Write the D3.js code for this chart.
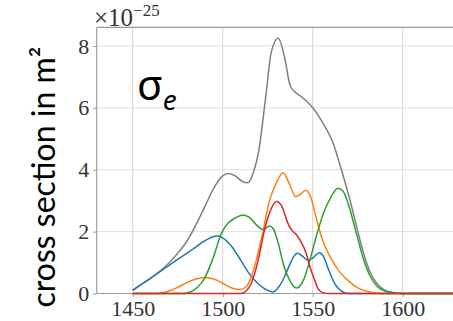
<!DOCTYPE html>
<html>
<head>
<meta charset="utf-8">
<script src="https://cdn.jsdelivr.net/npm/d3@7"></script>
<style>
  html, body { margin: 0; padding: 0; background: #fff; }
  svg { display: block; }
</style>
</head>
<body>
<svg id="chart" width="453" height="321"></svg>
<script>
// Emission cross section (units of 1e-25 m^2) versus wavelength (nm)
const xTicks = [1450, 1500, 1550, 1600];
const yTicks = [0, 2, 4, 6, 8];

// total emission cross section
const totalSeries = [
  [1450, 0.11], [1455, 0.3], [1460, 0.5], [1465, 0.72], [1470, 0.98], [1475, 1.3],
  [1480, 1.68], [1485, 2.2], [1490, 2.8], [1495, 3.4], [1500, 3.8], [1503, 3.88],
  [1507, 3.8], [1511, 3.62], [1514, 3.58], [1517, 3.9], [1520, 4.6], [1524, 6.4],
  [1527, 7.8], [1530.8, 8.25], [1534.5, 7.6], [1537.3, 6.75], [1540, 6.52], [1544, 6.35],
  [1549.4, 6.05], [1555.8, 5.5], [1561.4, 4.85], [1566, 3.99], [1570.7, 3.02],
  [1574.4, 2.16], [1578, 1.35], [1582, 0.68], [1586, 0.3], [1590, 0.11], [1595, 0.03],
  [1600, 0], [1640, 0]
];

// individual transition components
const blueSeries = [
  [1450, 0.1], [1455, 0.3], [1460, 0.5], [1465, 0.7], [1470, 0.9], [1475, 1.1],
  [1480, 1.3], [1485, 1.5], [1490, 1.7], [1495, 1.84], [1497, 1.86], [1500, 1.8],
  [1505, 1.52], [1510, 1.08], [1515, 0.62], [1520, 0.3], [1525, 0.1], [1528, 0.05],
  [1531, 0.2], [1534, 0.5], [1537, 0.9], [1539.5, 1.2], [1541.6, 1.3], [1544, 1.22],
  [1547.5, 1.07], [1550.5, 1.17], [1553.6, 1.32], [1556, 1.2], [1558, 0.9],
  [1560, 0.6], [1563, 0.25], [1566, 0.08], [1570, 0], [1640, 0]
];

const orangeSeries = [
  [1450, 0], [1463, 0], [1467, 0.03], [1470, 0.08], [1475, 0.2], [1480, 0.35],
  [1485, 0.47], [1490, 0.52], [1495, 0.47], [1500, 0.33], [1505, 0.18], [1509.5, 0.13],
  [1513, 0.22], [1516, 0.55], [1519, 1.15], [1522, 1.9], [1526, 3.0], [1530, 3.6],
  [1533.5, 3.9], [1537, 3.55], [1540.5, 3.13], [1543, 3.2], [1546.2, 3.34], [1549, 3.1],
  [1551.5, 2.55], [1555, 1.8], [1560, 1.15], [1565, 0.7], [1570, 0.4], [1575, 0.18],
  [1580, 0.07], [1585, 0.02], [1590, 0], [1640, 0]
];

const greenSeries = [
  [1450, 0], [1478, 0], [1482, 0.05], [1486, 0.2], [1490, 0.5], [1495, 1.2],
  [1499.3, 1.95], [1503, 2.28], [1506.7, 2.43], [1511.3, 2.54], [1515, 2.45],
  [1519, 2.2], [1522.5, 2.07], [1526, 2.18], [1528, 2.1], [1531, 1.6], [1533.6, 0.97],
  [1537, 0.45], [1541, 0.18], [1545, 0.45], [1549, 1.2], [1552, 1.85], [1556, 2.6],
  [1560, 3.1], [1564, 3.4], [1567, 3.3], [1570, 2.85], [1574, 2.0], [1578, 1.15],
  [1582, 0.55], [1586, 0.22], [1590, 0.08], [1595, 0.02], [1600, 0], [1640, 0]
];

const redSeries = [
  [1450, 0], [1510, 0], [1513, 0.08], [1516, 0.35], [1519.7, 1.08], [1523, 2.0],
  [1526, 2.6], [1530, 2.97], [1533, 2.8], [1536, 2.3], [1538.3, 2.05], [1541, 1.9],
  [1543, 1.72], [1546.5, 1.28], [1548.4, 0.87], [1551.2, 0.42], [1553, 0.15],
  [1556, 0.02], [1560, 0], [1640, 0]
];

const series = [
  { data: totalSeries, color: "#7f7f7f" },
  { data: blueSeries, color: "#1f77b4" },
  { data: orangeSeries, color: "#ff7f0e" },
  { data: greenSeries, color: "#2ca02c" },
  { data: redSeries, color: "#d62728" }
];

const svg = d3.select("#chart");
const W = 453, H = 321;

const x = d3.scaleLinear().domain([1430, 1630]).range([96.7, 456.7]);
const y = d3.scaleLinear().domain([0, 8.6]).range([293.5, 27.4]);

const plotLeft = x.range()[0], plotTop = y.range()[1], plotBottom = y.range()[0];

// grid
const grid = svg.append("g");
grid.selectAll("line.v").data(xTicks).join("line")
  .attr("x1", d => x(d)).attr("x2", d => x(d))
  .attr("y1", plotTop).attr("y2", plotBottom)
  .attr("stroke", "#d6d6d6").attr("stroke-width", 1);
grid.selectAll("line.h").data(yTicks).join("line")
  .attr("x1", plotLeft).attr("x2", W)
  .attr("y1", d => y(d)).attr("y2", d => y(d))
  .attr("stroke", "#dedede").attr("stroke-width", 1);

// axes
const axisFont = "'Liberation Serif', 'DejaVu Serif', serif";
const xAxis = svg.append("g")
  .attr("transform", `translate(0,${plotBottom})`)
  .call(d3.axisBottom(x).tickValues(xTicks).tickSize(3.5).tickPadding(3).tickFormat(d3.format("d")));
const yAxis = svg.append("g")
  .attr("transform", `translate(${plotLeft},0)`)
  .call(d3.axisLeft(y).tickValues(yTicks).tickSize(3.5).tickPadding(4).tickFormat(d3.format("d")));

[xAxis, yAxis].forEach(g => {
  g.select(".domain").remove();
  g.selectAll(".tick line").attr("stroke", "#9a9a9a");
  g.selectAll(".tick text")
    .attr("fill", "#333")
    .style("font-family", axisFont)
    .style("font-size", "22px");
});
// x labels sit on a fixed baseline near the bottom edge
xAxis.selectAll(".tick text").attr("dy", null).attr("y", 315.5 - plotBottom);

// spines: left, bottom, top
svg.append("line").attr("x1", plotLeft).attr("x2", plotLeft)
  .attr("y1", plotTop).attr("y2", plotBottom).attr("stroke", "#999").attr("stroke-width", 1.1);
svg.append("line").attr("x1", plotLeft).attr("x2", W)
  .attr("y1", plotBottom).attr("y2", plotBottom).attr("stroke", "#999").attr("stroke-width", 1.1);
svg.append("line").attr("x1", plotLeft).attr("x2", W)
  .attr("y1", plotTop).attr("y2", plotTop).attr("stroke", "#999").attr("stroke-width", 1.1);

// curves
const line = d3.line()
  .x(d => x(d[0]))
  .y(d => y(d[1]))
  .curve(d3.curveMonotoneX);

svg.append("g").selectAll("path").data(series).join("path")
  .attr("d", d => line(d.data))
  .attr("fill", "none")
  .attr("stroke", d => d.color)
  .attr("stroke-width", 1.5)
  .attr("stroke-linejoin", "round");

// offset / scale multiplier
const mult = svg.append("text")
  .attr("x", 94).attr("y", 26)
  .attr("fill", "#333")
  .style("font-family", axisFont)
  .style("font-size", "25px");
mult.append("tspan").text("×10");
mult.append("tspan").attr("dy", -10).style("font-size", "17px").text("−25");

// symbol label
const sym = svg.append("text")
  .attr("x", 137).attr("y", 100)
  .attr("fill", "#000")
  .style("font-family", "'Noto Sans', 'Open Sans', sans-serif");
sym.append("tspan").style("font-size", "42px").text("σ");
sym.append("tspan").attr("dy", 10).style("font-size", "28px").style("font-style", "italic").text("e");

// y-axis title
svg.append("text")
  .attr("transform", "translate(55,177) rotate(-90)")
  .attr("text-anchor", "middle")
  .attr("fill", "#000")
  .style("font-family", "Lato, 'Open Sans', sans-serif")
  .style("font-size", "32px")
  .text("cross section in m²");
</script>
</body>
</html>
